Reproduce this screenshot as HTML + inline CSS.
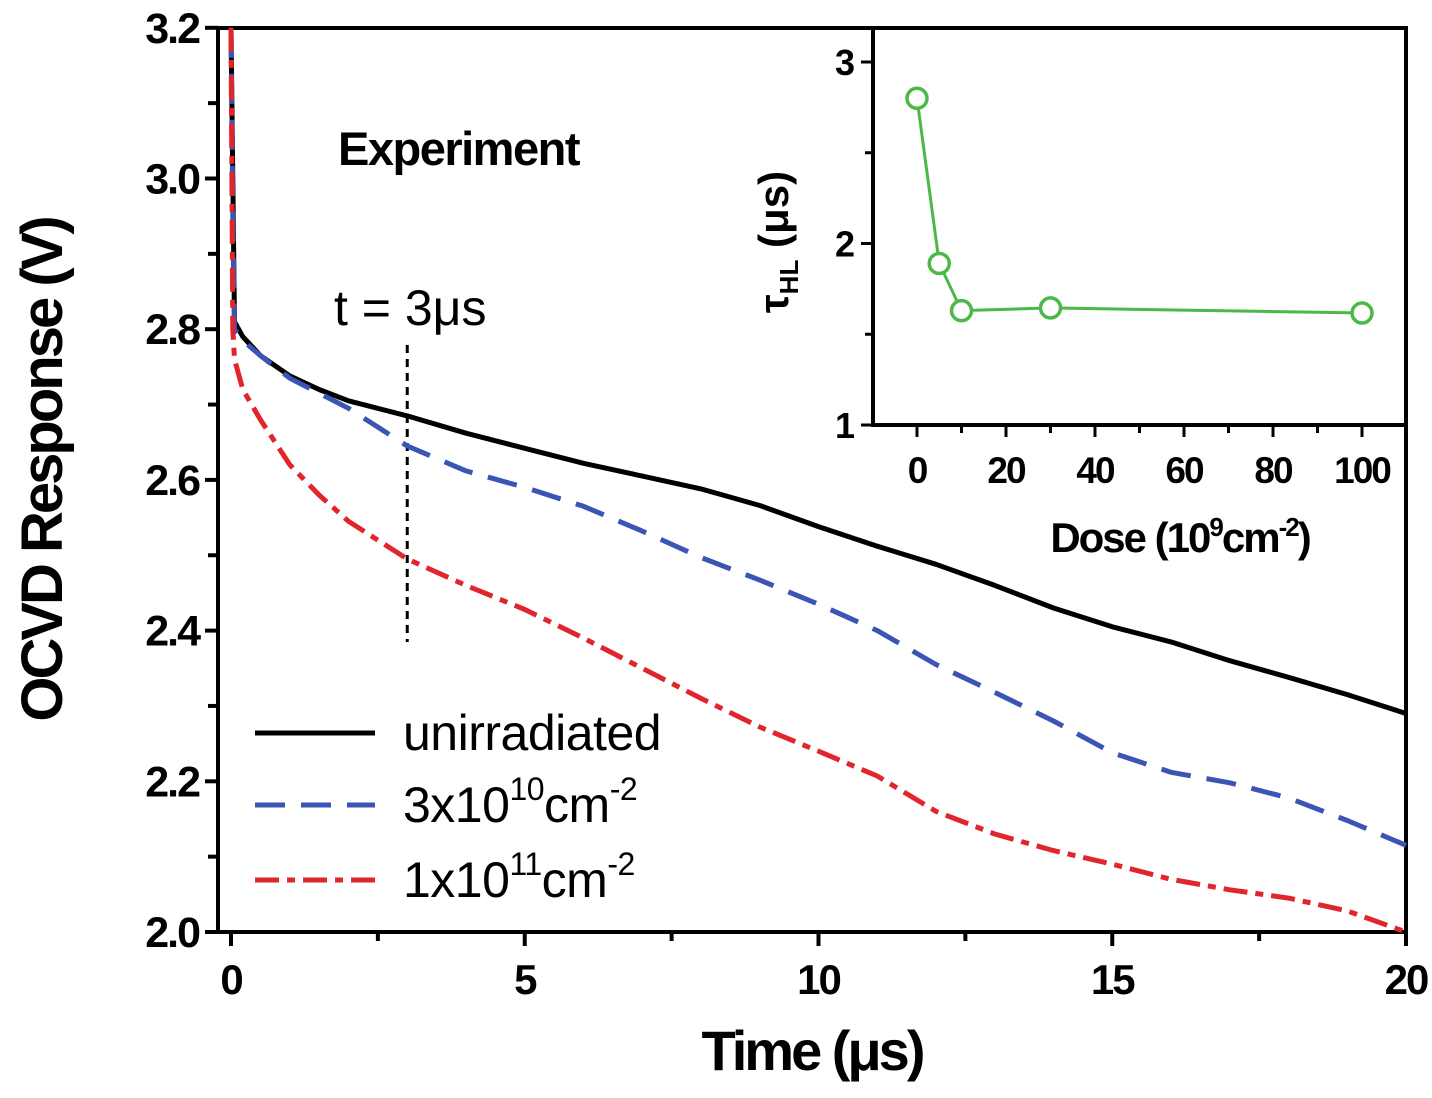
<!DOCTYPE html>
<html><head><meta charset="utf-8"><style>
html,body{margin:0;padding:0;background:#fff}
svg{display:block;font-family:"Liberation Sans",sans-serif}
</style></head><body>
<svg id="c" width="1432" height="1098" viewBox="0 0 1432 1098">
<g id="main"></g>
<g id="inset"></g>
</svg>
<script>
const times=[0,0.03,0.06,0.2,0.5,1,1.5,2,3,4,5,6,7,8,9,10,11,12,13,14,15,16,17,18,19,20];
const unirr=[3.2,3.0,2.81,2.79,2.765,2.738,2.72,2.705,2.685,2.662,2.642,2.622,2.605,2.588,2.566,2.538,2.512,2.488,2.46,2.43,2.405,2.385,2.36,2.338,2.315,2.29];
const dose3e10=[3.2,2.95,2.8,2.785,2.765,2.735,2.715,2.695,2.645,2.612,2.59,2.565,2.532,2.497,2.467,2.435,2.4,2.355,2.318,2.28,2.238,2.212,2.198,2.178,2.148,2.115];
const dose1e11=[3.2,2.8,2.76,2.72,2.68,2.62,2.58,2.545,2.495,2.46,2.428,2.39,2.35,2.31,2.272,2.24,2.207,2.16,2.13,2.108,2.09,2.07,2.056,2.045,2.028,2.0];
const xTicks=[0,5,10,15,20];
const yTicks=[2.0,2.2,2.4,2.6,2.8,3.0,3.2];
const insetDose=[0,5,10,30,100];
const insetTau=[2.8,1.89,1.63,1.645,1.617];
const insetXTicks=[0,20,40,60,80,100];
const insetYTicks=[1,2,3];

const NS="http://www.w3.org/2000/svg";
function mk(p,t,a){const e=document.createElementNS(NS,t);for(const k in a)e.setAttribute(k,a[k]);p.appendChild(e);return e;}
const X=v=>231+v*58.75, Y=v=>932-(v-2)*753.5;
const M=document.getElementById('main');
let fr=mk(M,'path',{d:`M218 28 L1406 28 L1406 932 L218 932 Z`,fill:'none',stroke:'#000','stroke-width':4});


for(let v=0;v<=20;v+=2.5){const maj=v%5===0;const t=mk(M,'line',{x1:X(v),x2:X(v),y1:932,y2:maj?946:941,stroke:'#000','stroke-width':4});

}
xTicks.forEach(v=>{const t=mk(M,'text',{x:X(v),y:994,'text-anchor':'middle','font-size':42,'font-weight':'bold','letter-spacing':-2});t.textContent=v;

});
for(let v=2.0;v<=3.201;v+=0.1){const maj=Math.round(v*10)%2===0;const t=mk(M,'line',{x1:maj?205:208,x2:218,y1:Y(v),y2:Y(v),stroke:'#000','stroke-width':4});

}
yTicks.forEach(v=>{const t=mk(M,'text',{x:199,y:Y(v)+15,'text-anchor':'end','font-size':43,'font-weight':'bold','letter-spacing':-2});t.textContent=v.toFixed(1);

});
let xt=mk(M,'text',{x:812,y:1070,'text-anchor':'middle','font-size':56,'font-weight':'bold','letter-spacing':-3});xt.textContent='Time  (μs)';


let yt=mk(M,'text',{x:0,y:0,transform:'translate(62,470) rotate(-90)','text-anchor':'middle','font-size':58,'font-weight':'bold','letter-spacing':-3});yt.textContent='OCVD Response  (V)';


let ex=mk(M,'text',{x:338,y:165,'font-size':47,'font-weight':'bold','letter-spacing':-1.5});ex.textContent='Experiment';


let tl=mk(M,'text',{x:334,y:325,'font-size':50});tl.textContent='t = 3μs';


let vl=mk(M,'line',{x1:X(3),x2:X(3),y1:345,y2:642,stroke:'#000','stroke-width':3,'stroke-dasharray':'8 6'});


const series=[[unirr,'#000','', 'unirradiated-line'],[dose3e10,'#3a55b4','30 16','dose-3e10-line'],[dose1e11,'#e0262c','24 8 8 8','dose-1e11-line']];
series.forEach(s=>{const d=times.map((t,i)=>(i?'L':'M')+X(t).toFixed(1)+' '+Y(s[0][i]).toFixed(1)).join(' ');
const p=mk(M,'path',{d:d,fill:'none',stroke:s[1],'stroke-width':5,'stroke-dasharray':s[2],'stroke-linejoin':'round'});

});
const leg=[['#000','','unirradiated',733,''],['#3a55b4','30 16','3x10',805,'10'],['#e0262c','24 8 8 8','1x10',880,'11']];
leg.forEach(l=>{const ln=mk(M,'line',{x1:255,x2:375,y1:l[3],y2:l[3],stroke:l[0],'stroke-width':5,'stroke-dasharray':l[1]});


const t=mk(M,'text',{x:403,y:l[3]+17,'font-size':50,'letter-spacing':-0.5});


if(l[4]){t.innerHTML=`${l[2]}<tspan dy="-22" font-size="32">${l[4]}</tspan><tspan dy="22">cm</tspan><tspan dy="-22" font-size="32">-2</tspan>`;}else t.textContent=l[2];});
const I=document.getElementById('inset');
const IX=v=>917+v*4.45, IY=v=>425-(v-1)*181.5;
let ib=mk(I,'path',{d:'M873 28 L873 425 L1406 425',fill:'none',stroke:'#000','stroke-width':4});


for(let v=0;v<=100;v+=10){const maj=v%20===0;const t=mk(I,'line',{x1:IX(v),x2:IX(v),y1:425,y2:maj?437:433,stroke:'#000','stroke-width':3});

}
insetXTicks.forEach(v=>{const t=mk(I,'text',{x:IX(v),y:483,'text-anchor':'middle','font-size':37,'font-weight':'bold','letter-spacing':-2});t.textContent=v;

});
for(let v=1;v<=3;v+=0.5){const maj=v%1===0;const t=mk(I,'line',{x1:maj?861:865,x2:873,y1:IY(v),y2:IY(v),stroke:'#000','stroke-width':3});

}
insetYTicks.forEach(v=>{const t=mk(I,'text',{x:855,y:IY(v)+13,'text-anchor':'end','font-size':36,'font-weight':'bold'});t.textContent=v;

});
let dx=mk(I,'text',{x:1180,y:552,'text-anchor':'middle','font-size':42,'font-weight':'bold','letter-spacing':-2});
dx.innerHTML='Dose (10<tspan dy="-16" font-size="26">9</tspan><tspan dy="16">cm</tspan><tspan dy="-16" font-size="26">-2</tspan><tspan dy="16">)</tspan>';


let ty=mk(I,'text',{x:0,y:0,transform:'translate(788,242) rotate(-90)','text-anchor':'middle','font-size':42,'font-weight':'bold'});
ty.innerHTML='τ<tspan dy="10" font-size="26">HL</tspan><tspan dy="-10">  (μs)</tspan>';


const ip=mk(I,'path',{d:insetDose.map((d,i)=>(i?'L':'M')+IX(d)+' '+IY(insetTau[i])).join(' '),fill:'none',stroke:'#4cb848','stroke-width':3});


insetDose.forEach((d,i)=>{const c=mk(I,'circle',{cx:IX(d),cy:IY(insetTau[i]),r:10,fill:'#fff',stroke:'#4cb848','stroke-width':3.5});

});
</script>
</body></html>
